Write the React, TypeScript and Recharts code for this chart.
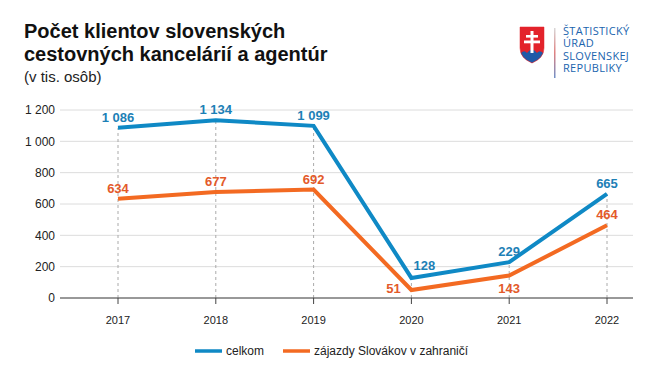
import React from "react";
import { LineChart, Line, XAxis, YAxis, CartesianGrid, LabelList, ReferenceLine } from "recharts";

const years = ["2017", "2018", "2019", "2020", "2021", "2022"];
const celkom = [1086, 1134, 1099, 128, 229, 665];
const zajazdy = [634, 677, 692, 51, 143, 464];
const yTicks = [0, 200, 400, 600, 800, 1000, 1200];

const BLUE = "#0f89c5";
const ORANGE = "#f36a22";
const BLUE_LBL = "#1d80b6";
const ORANGE_LBL = "#e35a2a";

// label placement per point (style only)
const celkomPlace = ["top", "top", "top", "topright", "top", "top"];
const zajazdyPlace = ["top", "top", "top", "left", "bottom", "top"];

const data = years.map((y, i) => ({ year: y, celkom: celkom[i], zajazdy: zajazdy[i] }));

const fmt = (v: number) => String(v).replace(/\B(?=(\d{3})+(?!\d))/g, " ");

const makeLabel = (places: string[], color: string) => (props: any) => {
  const { x, y, value, index } = props;
  const p = places[index];
  let tx = x;
  let ty = y - 6;
  let anchor: any = "middle";
  if (p === "topright") {
    tx = x + 13;
    ty = y - 8;
  } else if (p === "left") {
    tx = x - 18;
    ty = y + 3;
  } else if (p === "bottom") {
    ty = y + 17;
  }
  return (
    <text x={tx} y={ty} textAnchor={anchor} fill={color} fontSize={13} fontWeight="bold" fontFamily="Liberation Sans, Arial, sans-serif">
      {fmt(value)}
    </text>
  );
};

const Logo = () => (
  <svg width={130} height={60} style={{ position: "absolute", left: 515, top: 22 }}>
    <defs>
      <clipPath id="shieldClip">
        <path d="M5 5 H29 V26 Q29 36 17 41 Q5 36 5 26 Z" />
      </clipPath>
      <linearGradient id="sep" x1="0" y1="0" x2="0" y2="1">
        <stop offset="0" stopColor="#d8d8d8" />
        <stop offset="0.5" stopColor="#e08080" />
        <stop offset="1" stopColor="#7090c8" />
      </linearGradient>
    </defs>
    <g clipPath="url(#shieldClip)">
      <rect x={0} y={0} width={40} height={50} fill="#e3232b" />
      <path d="M0 42 L5 32 Q9 27 12 31 Q17 24 22 31 Q25 27 29 32 L34 42 Z" fill="#1f5aa8" />
    </g>
    <path d="M5 5 H29 V26 Q29 36 17 41 Q5 36 5 26 Z" fill="none" stroke="#e3232b" strokeWidth={0.5} />
    <rect x={15.5} y={9} width={3} height={22} fill="#fff" />
    <rect x={11} y={13} width={12} height={2.6} fill="#fff" />
    <rect x={9} y={18.5} width={16} height={2.8} fill="#fff" />
    <rect x={39} y={6} width={1.5} height={50} fill="url(#sep)" />
  </svg>
);

const logoLines = ["ŠTATISTICKÝ", "ÚRAD", "SLOVENSKEJ", "REPUBLIKY"];

export default function App() {
  return (
    <div style={{ position: "absolute", left: 0, top: 0, width: 660, height: 380, background: "#fff", fontFamily: "Liberation Sans, Arial, sans-serif" }}>
      <div style={{ position: "absolute", left: 24, top: 20, fontSize: 20, fontWeight: "bold", lineHeight: "23px", color: "#111", whiteSpace: "nowrap" }}>
        Počet klientov slovenských
        <br />
        cestovných kancelárií a agentúr
      </div>
      <div style={{ position: "absolute", left: 24, top: 68, fontSize: 15, color: "#222" }}>(v tis. osôb)</div>
      <Logo />
      <svg width={100} height={60} style={{ position: "absolute", left: 562, top: 24 }}>
        {logoLines.map((t, i) => (
          <text key={t} x={1} y={11 + i * 12.3} fontSize={11} fill="#2064ae" fontFamily="Open Sans, sans-serif" letterSpacing={0.3}>
            {t}
          </text>
        ))}
      </svg>
      <div style={{ position: "absolute", left: 0, top: 0 }}>
        <LineChart width={660} height={380} data={data} margin={{ top: 110, right: 27, bottom: 52, left: 0 }}>
          <CartesianGrid vertical={false} stroke="#dcdcdc" strokeWidth={1} />
          <XAxis
            dataKey="year"
            scale="point"
            padding={{ left: 58, right: 26 }}
            axisLine={{ stroke: "#444", strokeWidth: 1 }}
            tickLine={{ stroke: "#444" }}
            tickSize={6}
            tickMargin={12}
            height={30}
            tick={{ fill: "#222", fontSize: 11 }}
          />
          <YAxis
            width={60}
            domain={[0, 1200]}
            ticks={yTicks}
            axisLine={false}
            tickLine={false}
            tickSize={5}
            tickMargin={0}
            tickFormatter={fmt}
            tick={{ fill: "#222", fontSize: 12 }}
          />
          {years.map((y, i) => (
            <ReferenceLine
              key={y}
              segment={[
                { x: y, y: 0 },
                { x: y, y: Math.max(celkom[i], zajazdy[i]) },
              ]}
              stroke="#aaa"
              strokeDasharray="3 3"
              strokeWidth={1}
            />
          ))}
          <Line dataKey="zajazdy" stroke={ORANGE} strokeWidth={4} dot={false} isAnimationActive={false} strokeLinejoin="miter">
            <LabelList dataKey="zajazdy" content={makeLabel(zajazdyPlace, ORANGE_LBL)} />
          </Line>
          <Line dataKey="celkom" stroke={BLUE} strokeWidth={4} dot={false} isAnimationActive={false} strokeLinejoin="miter">
            <LabelList dataKey="celkom" content={makeLabel(celkomPlace, BLUE_LBL)} />
          </Line>
        </LineChart>
      </div>
      <svg width={660} height={30} style={{ position: "absolute", left: 0, top: 337 }}>
        <line x1={195} x2={222} y1={14} y2={14} stroke={BLUE} strokeWidth={3.5} />
        <text x={226} y={18} fontSize={12} fill="#222">celkom</text>
        <line x1={283} x2={310} y1={14} y2={14} stroke={ORANGE} strokeWidth={3.5} />
        <text x={314} y={18} fontSize={12} fill="#222">zájazdy Slovákov v zahraničí</text>
      </svg>
    </div>
  );
}
